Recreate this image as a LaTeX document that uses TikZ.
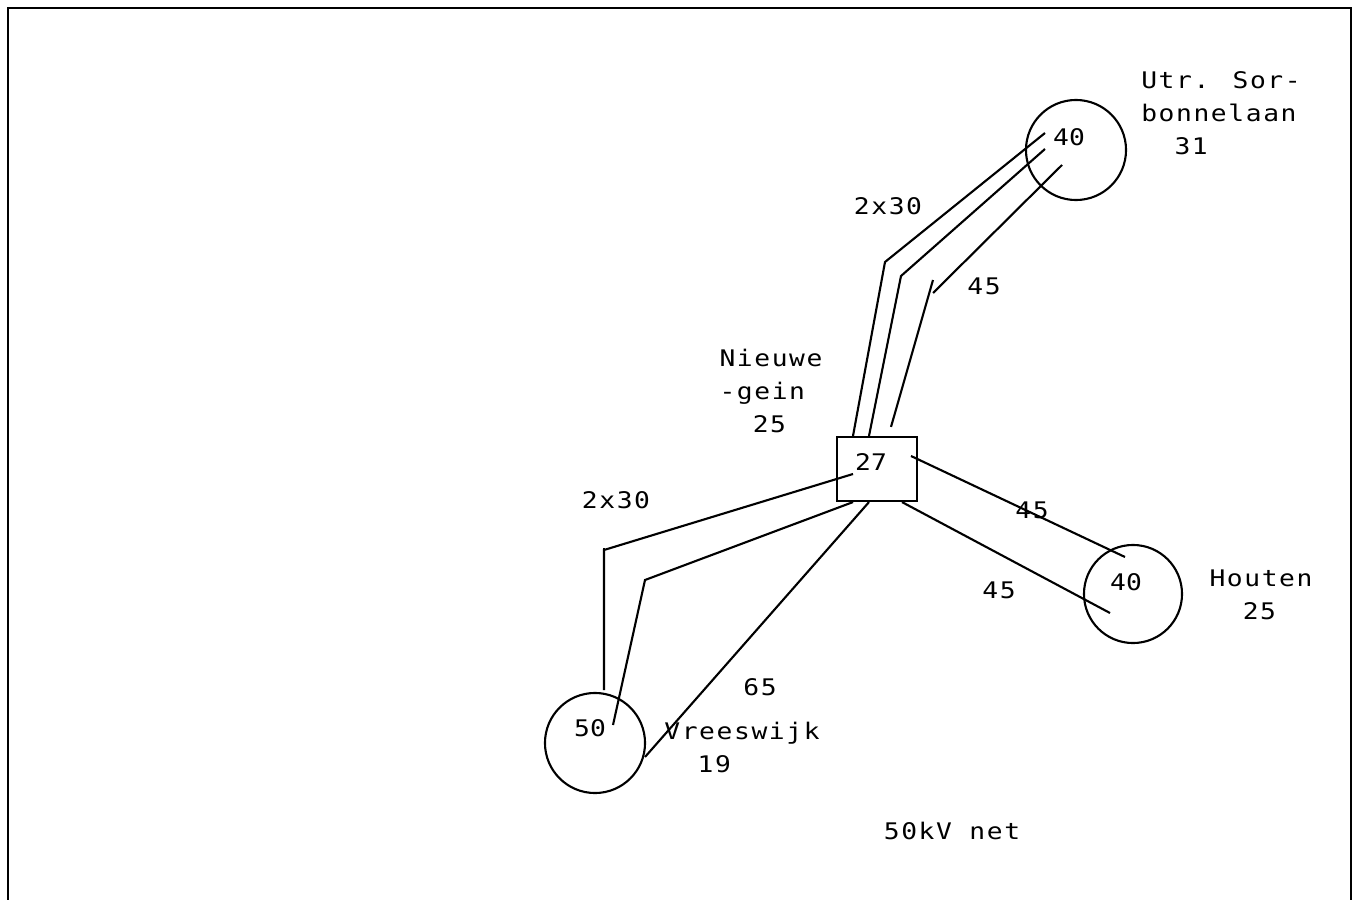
\documentclass[tikz,border=0pt]{standalone}
\usepackage{fontspec}
\usetikzlibrary{calc}
\newfontfamily\lblfont[FakeStretch=1.15,LetterSpace=7]{DejaVu Sans Mono}
\newfontfamily\numfont[FakeStretch=1.15]{DejaVu Sans Mono}
\tikzset{
  station/.style={circle, draw, line width=0.6pt, minimum size=1cm, inner sep=0pt},
  hub/.style={rectangle, draw, line width=0.6pt, minimum width=0.8cm, minimum height=0.64cm, inner sep=0pt},
  lbl/.style={align=left, inner sep=0pt, font=\fontsize{6.5pt}{9.4pt}\selectfont\lblfont},
  load/.style={inner sep=0pt, font=\fontsize{6.5pt}{9.4pt}\selectfont\numfont},
  cable/.style={line width=0.6pt, line join=miter},
  frame/.style={line width=0.75pt}
}
\begin{document}
\begin{tikzpicture}[x=0.01cm,y=-0.01cm]
  \useasboundingbox (0,0) rectangle (1354,900);
  \draw[frame] (8,900) -- (8,8) -- (1351,8) -- (1351,900);

  % stations
  \node[station] (utr) at (1076,150) {};
  \node[hub] (ng) at (877,469) {};
  \node[station,minimum size=0.98cm] (hout) at (1133,594) {};
  \node[station] (vrs) at (595,743) {};

  \node[load] (utrload) at (1069,137) {40};
  \node[load] (ngload) at (871,462) {27};
  \node[load] (houtload) at (1126,582) {40};
  \node[load] (vrsload) at (590,728) {50};

  \node[lbl] (utrname) at (1221,113) {Utr. Sor-\\bonnelaan\\\phantom{00}31};
  \node[lbl] (ngname) at (771,391) {Nieuwe\\-gein\\\phantom{00}25};
  \node[lbl] (houtname) at (1261,595) {Houten\\\phantom{00}25};
  \node[lbl] (vrsname) at (742,747) {Vreeswijk\\\phantom{00}19};

  % cable ends
  \coordinate (u1) at ($(utr)+(-31,-17)$);
  \coordinate (u2) at ($(utr)+(-31,-1)$);
  \coordinate (u3) at ($(utr)+(-14,15)$);
  \coordinate (n1) at ($(ng.north)+(-24,0)$);
  \coordinate (n2) at ($(ng.north)+(-8,0)$);
  \coordinate (n3) at ($(ng.north)+(14,-9)$);
  \coordinate (w1) at ($(ng)+(-24,5)$);
  \coordinate (s1) at ($(ng.south)+(-24,0)$);
  \coordinate (s2) at ($(ng.south)+(-8,0)$);
  \coordinate (s3) at ($(ng.south)+(25,0)$);
  \coordinate (e1) at ($(ng)+(34,-13)$);
  \coordinate (v1) at ($(vrs)+(9,-53)$);
  \coordinate (v2) at ($(vrs)+(18,-18)$);
  \coordinate (v3) at ($(vrs)+(50,14)$);
  \coordinate (h1) at ($(hout)+(-8,-37)$);
  \coordinate (h2) at ($(hout)+(-23,19)$);

  % cables
  \draw[cable] (u1) -- (885,262) -- (n1);
  \draw[cable] (u2) -- (901,276) -- (n2);
  \draw[cable] (u3) -- (933,293) (933,280) -- (n3);
  \draw[cable] (w1) -- (604,550) -- (v1);
  \draw[cable] (604,550) -- ++(0,-2);
  \draw[cable] (s1) -- (645,580) -- (v2);
  \draw[cable] (s2) -- (v3);
  \draw[cable] (e1) -- (h1);
  \draw[cable] (s3) -- (h2);

  % cable ratings
  \node[lbl] (r1) at (888,206) {2x30};
  \node[lbl] (r2) at (984,286) {45};
  \node[lbl] (r3) at (616,500) {2x30};
  \node[lbl] (r4) at (1032,510) {45};
  \node[lbl] (r5) at (999,590) {45};
  \node[lbl] (r6) at (760,687) {65};
  \node[lbl] (title) at (952,831) {50kV net};
\end{tikzpicture}
\end{document}
